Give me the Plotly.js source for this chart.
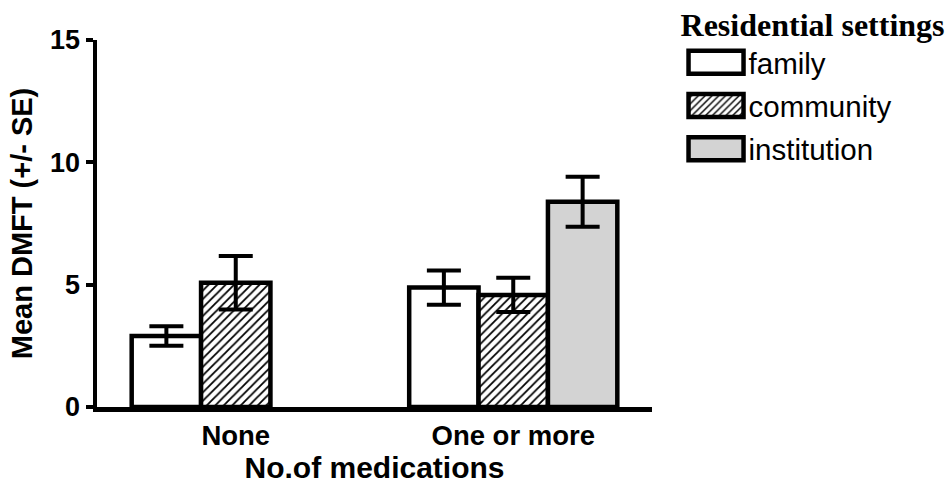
<!DOCTYPE html>
<html>
<head>
<meta charset="utf-8">
<script src="https://cdn.plot.ly/plotly-3.0.1.min.js"></script>
<style>
  html, body { margin: 0; padding: 0; background: #fff; }
  #chart { width: 949px; height: 486px; }
</style>
</head>
<body>
<div id="chart"></div>
<script>
// Mean DMFT by number of medications, grouped by residential setting
const categories = ['None', 'One or more'];
const settings = ['family', 'community', 'institution'];

const familyMean = [2.9, 4.88];
const familySE = [0.4, 0.7];
const communityMean = [5.08, 4.58];
const communitySE = [1.09, 0.7];
const institutionMean = [null, 8.39];
const institutionSE = [null, 1.02];

const yTickVals = [0, 5, 10, 15];

const lineBlack = { color: '#000', width: 4.5 };
const errStyle = { type: 'data', visible: true, color: '#000', thickness: 4, width: 17 };

function barTrace(name, y, se, fill, pattern) {
  const t = {
    type: 'bar',
    name: name,
    legendgroup: name,
    x: categories,
    y: y,
    error_y: Object.assign({ array: se }, errStyle),
    marker: { color: fill, line: lineBlack },
    hoverinfo: 'skip'
  };
  if (pattern) t.marker.pattern = pattern;
  return t;
}

const data = [
  barTrace(settings[0], familyMean, familySE, '#ffffff'),
  barTrace(settings[1], communityMean, communitySE, '#ffffff',
    { shape: '/', fgcolor: '#000', bgcolor: '#ffffff', size: 6, solidity: 0.3 }),
  barTrace(settings[2], institutionMean, institutionSE, '#d3d3d3')
];

const sans = 'Liberation Sans, Arial, sans-serif';

const layout = {
  width: 949,
  height: 486,
  margin: { l: 97, r: 297, t: 40, b: 79, pad: 0, autoexpand: false },
  paper_bgcolor: '#fff',
  plot_bgcolor: '#fff',
  barmode: 'group',
  bargap: 0.25,
  bargroupgap: 0,
  xaxis: {
    type: 'category',
    range: [-0.5, 1.5],
    showline: true,
    linecolor: '#000',
    linewidth: 4.5,
    ticks: '',
    showgrid: false,
    zeroline: false,
    tickfont: { family: sans, size: 27.5, color: '#000', weight: 'bold' },
    title: { text: 'No.of medications', font: { family: sans, size: 30, color: '#000', weight: 'bold' }, standoff: 8 }
  },
  yaxis: {
    range: [0, 15],
    tickvals: yTickVals,
    ticktext: yTickVals.map(String),
    showline: true,
    linecolor: '#000',
    linewidth: 4.5,
    ticks: 'outside',
    ticklen: 7,
    tickwidth: 4,
    tickcolor: '#000',
    showgrid: false,
    zeroline: false,
    tickfont: { family: sans, size: 27, color: '#000', weight: 'bold' },
    title: { text: 'Mean DMFT (+/- SE)', font: { family: sans, size: 29, color: '#000', weight: 'bold' }, standoff: 10 }
  },
  showlegend: true,
  legend: {
    xref: 'container',
    yref: 'paper',
    x: 0.715,
    y: 1.123,
    xanchor: 'left',
    yanchor: 'top',
    bgcolor: 'rgba(0,0,0,0)',
    borderwidth: 0,
    itemwidth: 60,
    tracegroupgap: 2,
    font: { family: sans, size: 29.5, color: '#000' },
    title: { text: 'Residential settings', side: 'top',
      font: { family: 'Liberation Serif, Times New Roman, serif', size: 32, color: '#000', weight: 'bold' } }
  }
};

Plotly.newPlot('chart', data, layout, { displayModeBar: false, staticPlot: true }).then(function (gd) {
  // Wide outlined swatches in the legend
  gd.querySelectorAll('.legend .traces').forEach(function (tr) {
    const txt = tr.querySelector('.legendtext');
    const p = tr.querySelector('.legendpoints path');
    if (!txt || !p) return;
    const tx = parseFloat(txt.getAttribute('x')) || 0;
    p.setAttribute('d', 'M0,-11.5H55V11.5H0Z');
    p.setAttribute('transform', 'translate(' + (tx - 60) + ',0)');
    p.style.strokeWidth = '4.5px';
  });
});
</script>
</body>
</html>
